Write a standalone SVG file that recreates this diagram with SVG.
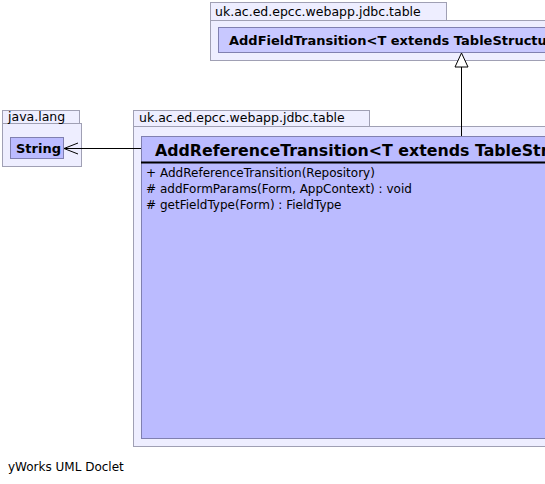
<svg xmlns="http://www.w3.org/2000/svg" width="545" height="484" viewBox="0 0 545 484">
<style>
.pkg{fill:#eeeeff;stroke:#a0a0b4;stroke-width:1}
.cls{fill:#bbbbff;stroke:#8080b0;stroke-width:1}
.cls2{fill:#c8c8ff;stroke:#8080b0;stroke-width:1}
.pl{font-family:"DejaVu Sans",sans-serif;font-size:12.5px;fill:#000}
.bt{font-family:"DejaVu Sans",sans-serif;font-weight:bold;fill:#000}
.m{font-family:"DejaVu Sans",sans-serif;font-size:12px;fill:#000}
.edge{stroke:#000;stroke-width:1;fill:none}
</style>
<rect width="545" height="484" fill="#ffffff"/>
<g id="pkg-top">
<rect class="pkg" x="210.5" y="2.5" width="236" height="18"/>
<rect class="pkg" x="210.5" y="20.5" width="340" height="40"/>
<text class="pl" x="215" y="16">uk.ac.ed.epcc.webapp.jdbc.table</text>
</g>
<g id="AddFieldTransition">
<rect class="cls2" x="218.5" y="27.5" width="340" height="25"/>
<text class="bt" x="229" y="45" font-size="13">AddFieldTransition&lt;T extends TableStructu</text>
</g>
<g id="pkg-lang">
<rect class="pkg" x="2.5" y="110.5" width="77" height="13"/>
<rect class="pkg" x="2.5" y="123.5" width="79" height="43"/>
<text class="pl" x="8" y="121">java.lang</text>
</g>
<g id="String">
<rect class="cls" x="10.5" y="137.5" width="53" height="21"/>
<text class="bt" x="16" y="153" font-size="13">String</text>
</g>
<g id="pkg-mid">
<rect class="pkg" x="133.5" y="110.5" width="236" height="16"/>
<rect class="pkg" x="133.5" y="126.5" width="420" height="320"/>
<text class="pl" x="139" y="122">uk.ac.ed.epcc.webapp.jdbc.table</text>
</g>
<g id="AddReferenceTransition">
<rect class="cls" x="141.5" y="136.5" width="420" height="302"/>
<line x1="141" y1="162.5" x2="545" y2="162.5" stroke="#000" stroke-width="2"/>
<text class="bt" x="155" y="156" font-size="15.8">AddReferenceTransition&lt;T extends TableStr</text>
<text class="m" x="146" y="177">+</text>
<text class="m" x="160" y="177">AddReferenceTransition(Repository)</text>
<text class="m" x="146" y="193">#</text>
<text class="m" x="160" y="193">addFormParams(Form, AppContext) : void</text>
<text class="m" x="146" y="209">#</text>
<text class="m" x="160" y="209">getFieldType(Form) : FieldType</text>
</g>
<g id="connectors">
<line class="edge" x1="461.5" y1="136" x2="461.5" y2="67"/>
<polygon points="461.5,53 455,67 468,67" fill="#ffffff" stroke="#000" stroke-width="1"/>
<line class="edge" x1="141" y1="148.5" x2="64" y2="148.5"/>
<polyline class="edge" points="78,143 64,148.5 78,154"/>
</g>
<text x="8" y="471" font-family="DejaVu Sans,sans-serif" font-size="12" fill="#000">yWorks UML Doclet</text>
</svg>
